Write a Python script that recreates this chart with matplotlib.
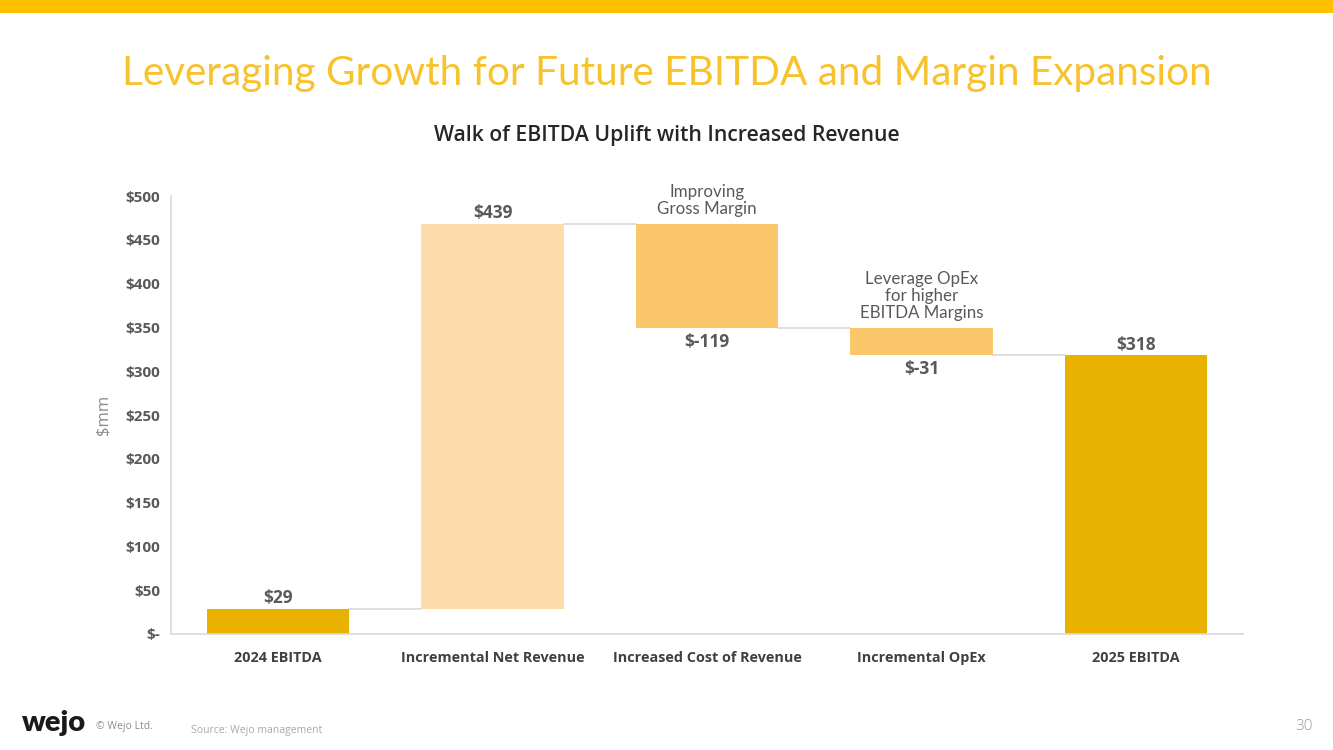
import matplotlib
matplotlib.use("Agg")
import matplotlib.pyplot as plt
import numpy as np

categories = ["2024 EBITDA", "Incremental Net Revenue", "Increased Cost of Revenue",
              "Incremental OpEx", "2025 EBITDA"]
values = [29, 439, -119, -31, 318]
is_total = [True, False, False, False, True]
value_labels = ["$29", "$439", "$-119", "$-31", "$318"]
yticks = [0, 50, 100, 150, 200, 250, 300, 350, 400, 450, 500]
ytick_labels = ["$-", "$50", "$100", "$150", "$200", "$250", "$300", "$350", "$400", "$450", "$500"]
notes = {2: "Improving\nGross Margin", 3: "Leverage OpEx\nfor higher\nEBITDA Margins"}

GOLD = "#E9B200"
LIGHT = "#FCDCAA"
MID = "#FAC86B"
GRAY_TXT = "#595959"

plt.rcParams['font.family'] = ['Open Sans', 'DejaVu Sans']

fig = plt.figure(figsize=(13.33, 7.5), dpi=100)
fig.patch.set_facecolor("white")

# top yellow band
fig.add_artist(plt.Rectangle((0, 1 - 13 / 750), 1, 13 / 750, transform=fig.transFigure,
                             color="#FFC000", lw=0))

fig.text(0.5, 0.902, "Leveraging Growth for Future EBITDA and Margin Expansion",
         ha="center", va="center", fontsize=29.2, color="#F7C22C", family=['Lato', 'DejaVu Sans'],
         fontweight="normal")
fig.text(0.5, 0.82, "Walk of EBITDA Uplift with Increased Revenue", ha="center", va="center",
         fontsize=15.2, color="#262626", fontweight="semibold")

ax = fig.add_axes([171 / 1333, 1 - 634 / 750, (1243 - 171) / 1333, (634 - 196) / 750])

x = np.arange(len(categories))
bottoms = []
heights = []
colors = []
running = 0
for i, (v, t) in enumerate(zip(values, is_total)):
    if t:
        bottoms.append(0)
        heights.append(v)
        running = v
        colors.append(GOLD)
    else:
        if v >= 0:
            bottoms.append(running)
            heights.append(v)
            colors.append(LIGHT)
        else:
            bottoms.append(running + v)
            heights.append(-v)
            colors.append(MID)
        running += v

width = 0.665
ax.bar(x, heights, bottom=bottoms, width=width, color=colors, lw=0, zorder=2)

# connectors
levels = []
running = 0
for v, t in zip(values, is_total):
    running = v if t else running + v
    levels.append(running)
for i in range(len(x) - 1):
    ax.plot([x[i] + width / 2, x[i + 1] - width / 2], [levels[i], levels[i]],
            color="#D9D9D9", lw=1.2, zorder=1)

# value labels
for i in range(len(x)):
    top = bottoms[i] + heights[i]
    if values[i] >= 0:
        ax.text(x[i], top + 2, value_labels[i], ha="center", va="bottom", fontsize=12.5,
                fontweight="bold", color=GRAY_TXT)
    else:
        ax.text(x[i], bottoms[i] - 5, value_labels[i], ha="center", va="top", fontsize=12.5,
                fontweight="bold", color=GRAY_TXT)

for i, txt in notes.items():
    top = bottoms[i] + heights[i]
    ax.text(x[i], top + 8, txt, ha="center", va="bottom", fontsize=12.2, color=GRAY_TXT,
            family=['Lato', 'DejaVu Sans'], linespacing=1.1)

ax.set_xlim(-0.5, 4.5)
ax.set_ylim(0, 500)
ax.set_yticks(yticks)
ax.set_yticklabels(ytick_labels)
ax.set_xticks(x)
ax.set_xticklabels(categories)
for lab in ax.get_yticklabels():
    lab.set_fontweight("bold")
    lab.set_fontsize(11)
    lab.set_color(GRAY_TXT)
for lab in ax.get_xticklabels():
    lab.set_fontweight("bold")
    lab.set_fontsize(10.4)
    lab.set_color("#404040")
ax.tick_params(axis="both", length=0)
ax.tick_params(axis="y", pad=8)
ax.tick_params(axis="x", pad=12)
for s in ["top", "right"]:
    ax.spines[s].set_visible(False)
ax.spines["left"].set_color("#D9D9D9")
ax.spines["bottom"].set_color("#D9D9D9")
ax.spines["left"].set_linewidth(1.2)
ax.spines["bottom"].set_linewidth(1.2)
ax.set_ylabel("$mm", fontsize=12, color="#8C8C8C", labelpad=10)

# footer
fig.text(22 / 1333, 1 - 723 / 750, "wejo", ha="left", va="center", fontsize=21,
         fontweight="heavy", color="#1A1A1A", family=['Lato', 'DejaVu Sans'])
fig.text(96 / 1333, 1 - 727 / 750, "© Wejo Ltd.", ha="left", va="center", fontsize=7.5,
         color="#8C8C8C")
fig.text(191 / 1333, 1 - 730 / 750, "Source: Wejo management", ha="left", va="center",
         fontsize=7.5, color="#AAAAAA")
fig.text(1313 / 1333, 1 - 727 / 750, "30", ha="right", va="center", fontsize=11,
         color="#9A9A9A", fontweight="light")

fig.savefig("out.png", dpi=100)
